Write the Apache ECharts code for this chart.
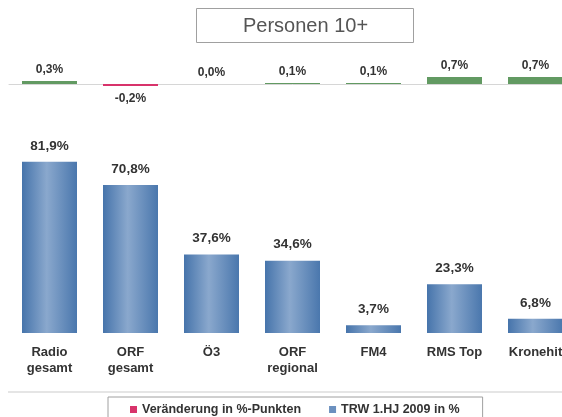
<!DOCTYPE html>
<html>
<head>
<meta charset="utf-8">
<script src="https://cdn.jsdelivr.net/npm/echarts@6/dist/echarts.min.js"></script>
<style>
  html, body { margin: 0; padding: 0; background: #fff; overflow: hidden; }
  /* the reference crops the last column at the right edge, so the canvas is wider than the window */
  #chart { width: 576px; height: 417px; }
</style>
</head>
<body>
<div id="chart"></div>
<script>
var categories = ["Radio\ngesamt", "ORF\ngesamt", "Ö3", "ORF\nregional", "FM4", "RMS Top", "Kronehit"];
var reach = [81.9, 70.8, 37.6, 34.6, 3.7, 23.3, 6.8];      // TRW 1.HJ 2009 in %
var change = [0.3, -0.2, 0.0, 0.1, 0.1, 0.7, 0.7];         // Veränderung in %-Punkten

var fmt = function (v) {
  return v.toFixed(1).replace(".", ",") + "%";
};

var blueBar = {
  type: "linear", x: 0, y: 0, x2: 1, y2: 0,
  colorStops: [
    { offset: 0, color: "#4674ab" },
    { offset: 0.45, color: "#8aa8cd" },
    { offset: 1, color: "#4a77ad" }
  ]
};

var changeData = change.map(function (v) {
  return {
    value: v,
    itemStyle: { color: v < 0 ? "#d8336b" : "#629a62" },
    label: { position: v < 0 ? "bottom" : "top", distance: v < 0 ? 7 : 5 }
  };
});

var chart = echarts.init(document.getElementById("chart"));
chart.setOption({
  animation: false,
  title: {
    text: "Personen 10+",
    left: 196,
    top: 8,
    padding: [8, 46, 7, 47],
    borderWidth: 1,
    borderColor: "#a0a0a0",
    textStyle: { fontFamily: "Liberation Sans", fontSize: 20, fontWeight: "normal", color: "#555" }
  },
  legend: {
    left: 108,
    top: 397,
    padding: [6, 23, 8, 22],
    itemGap: 28,
    itemWidth: 7,
    itemHeight: 7,
    borderWidth: 1,
    borderColor: "#a0a0a0",
    textStyle: { fontFamily: "Liberation Sans", fontSize: 12.5, fontWeight: "bold", color: "#333" },
    data: [
      { name: "Veränderung in %-Punkten", icon: "rect", itemStyle: { color: "#d8336b" } },
      { name: "TRW 1.HJ 2009 in %", icon: "rect", itemStyle: { color: "#6b90bf" } }
    ]
  },
  graphic: [{
    type: "line",
    shape: { x1: 8, y1: 392, x2: 576, y2: 392 },
    style: { stroke: "#dcdcdc", lineWidth: 1.5 }
  }],
  grid: [
    { left: 9, width: 567, top: 74, height: 20 },
    { left: 9, width: 567, top: 124, height: 209 }
  ],
  xAxis: [
    {
      type: "category", gridIndex: 0, data: categories,
      axisLine: { onZero: true, lineStyle: { color: "#d6d6d6", width: 1 } },
      axisTick: { show: false }, axisLabel: { show: false }
    },
    {
      type: "category", gridIndex: 1, data: categories,
      axisLine: { show: false }, axisTick: { show: false },
      axisLabel: {
        margin: 11, lineHeight: 16,
        fontFamily: "Liberation Sans", fontSize: 13, fontWeight: "bold", color: "#333"
      }
    }
  ],
  yAxis: [
    { type: "value", gridIndex: 0, min: -1, max: 1, show: false },
    { type: "value", gridIndex: 1, min: 0, max: 100, show: false }
  ],
  series: [
    {
      name: "Veränderung in %-Punkten",
      type: "bar",
      xAxisIndex: 0, yAxisIndex: 0,
      barWidth: 55,
      data: changeData,
      label: {
        show: true,
        formatter: function (p) { return fmt(p.value); },
        fontFamily: "Liberation Sans", fontSize: 12, fontWeight: "bold", color: "#333"
      }
    },
    {
      name: "TRW 1.HJ 2009 in %",
      type: "bar",
      xAxisIndex: 1, yAxisIndex: 1,
      barWidth: 55,
      itemStyle: { color: blueBar },
      data: reach,
      label: {
        show: true, position: "top", distance: 9,
        formatter: function (p) { return fmt(p.value); },
        fontFamily: "Liberation Sans", fontSize: 13.5, fontWeight: "bold", color: "#333"
      }
    }
  ]
});
</script>
</body>
</html>
